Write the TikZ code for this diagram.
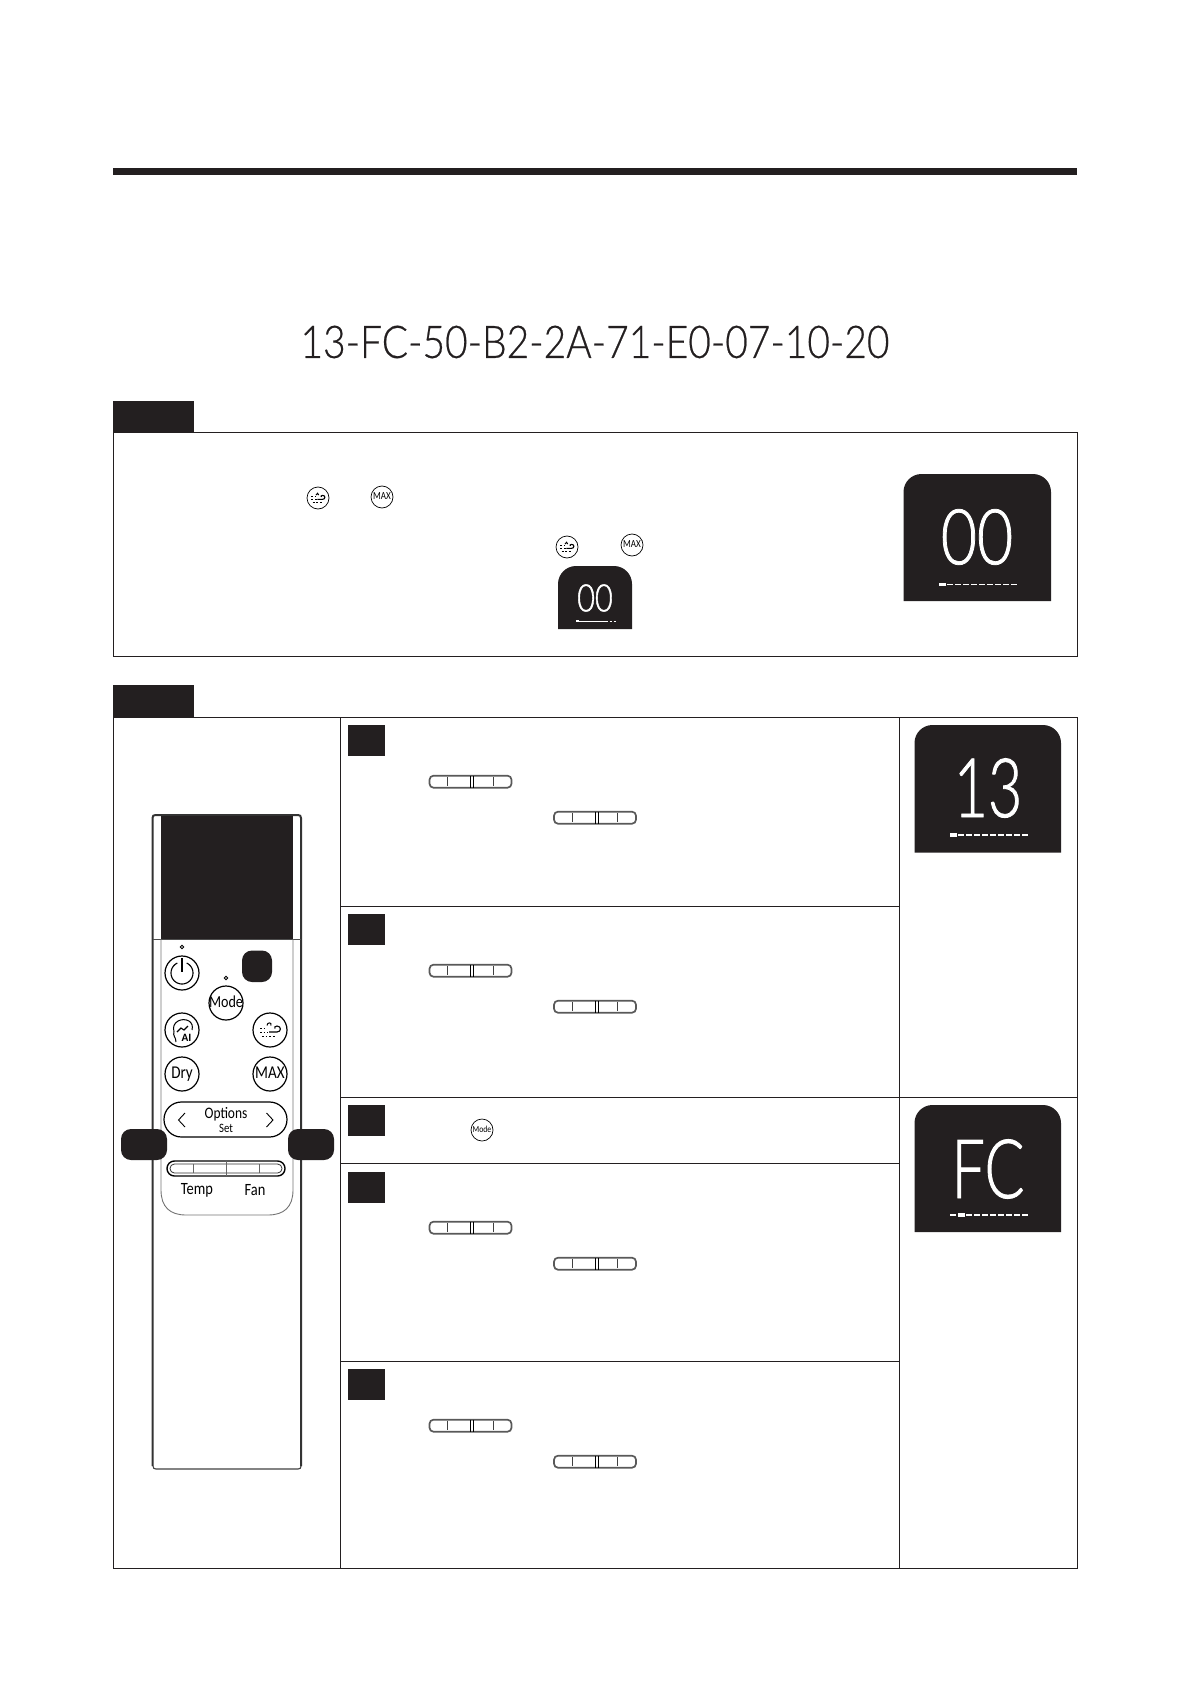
\documentclass[tikz,border=0pt]{standalone}
\usepackage{fontspec}
\setmainfont{Carlito}
\newfontfamily\lightfont[FakeStretch=0.865,FakeBold=0.5]{Lato Light}
\newfontfamily\zerofont[FakeStretch=0.81,FakeBold=1]{Lato Light}
\newfontfamily\codefont[FakeStretch=0.72,FakeBold=1]{Lato Light}
\newfontfamily\labelfont[FakeStretch=0.84]{Carlito}
\usepackage{xcolor}
\definecolor{panel}{HTML}{231F20}
\newcommand{\DispBox}[4]{\fill[panel] (#1,#4) [rounded corners=9pt] -- (#1,#2) -- (#3,#2) [sharp corners] -- (#3,#4) -- cycle;}
\newcommand{\DispBar}[3]{%
  \foreach \k in {0,...,9}{\draw[white,line width=0.55pt] ({#1+\k*8},#2) -- ({#1+\k*8+6.2},#2);}
  \fill[white] ({#1+#3*8},#2-1.7) rectangle ({#1+#3*8+6.8},#2+1.7);}
\newcommand{\BtnText}[1]{\raisebox{-0.5em}{\smash{\makebox[0pt]{#1}}}}
\tikzset{
  frameline/.style={line width=0.5pt,panel},
  softline/.style={line width=0.45pt,black!55},
  tabbox/.style={fill=panel},
  stepbox/.style={fill=panel},
  bigbtn/.style={circle,draw=black,line width=0.6pt,fill=white,inner sep=0pt,minimum size=17pt,font=\fontsize{8.4}{9}\selectfont\labelfont},
  smallbtn/.style={circle,draw=black,line width=0.35pt,fill=white,inner sep=0pt,minimum size=11pt,font=\fontsize{5.4}{6}\selectfont\labelfont},
  windicon/.pic={
    \draw[line width=0.4pt,black,dash pattern=on 0.9pt off 0.9pt] (-10,-2) -- (-4,-2) (-10,2) -- (-2,2) (-8,6.5) -- (6,6.5);
    \draw[line width=0.55pt,black] (-1,2) -- (7,2) .. controls (11.5,2) and (11.5,-4) .. (7,-4) .. controls (5,-4) and (4,-2.5) .. (5,-1.5);
    \draw[line width=0.5pt,black] (-3,-4.5) .. controls (-3,-8) and (2,-8) .. (1,-4.5);
  },
  sliderbar/.pic={
    \draw[line width=0.85pt,black!65,fill=white,rounded corners=2pt] (-41,-6) rectangle (41,6);
    \draw[line width=0.4pt,black!75] (-22.7,-4.5) -- (-22.7,4.5) (22.7,-4.5) -- (22.7,4.5);
    \draw[line width=0.5pt,black] (0,-6) -- (0,6) (3,-6) -- (3,6);
  }
}
\begin{document}
\begin{tikzpicture}[x=0.5pt,y=-0.5pt]
  \useasboundingbox (0,0) rectangle (1191,1684);
  % titre
  \fill[panel] (113,168.5) rectangle (1077,175);
  \node[font=\fontsize{22.5}{26}\selectfont\lightfont,text=panel] (code) at (595,342) {13-FC-50-B2-2A-71-E0-07-10-20};
  % premier cadre
  \fill[tabbox] (113,401) rectangle (194,432.5);
  \draw[frameline] (113.5,432.5) rectangle (1077.5,656);
  \node[smallbtn] (maxa) at (382,497) {\BtnText{MAX}};
  \node[smallbtn] (winda) at (318,498) {};
  \pic[scale=0.66] at (winda) {windicon};
  \node[smallbtn] (maxb) at (632,545) {\BtnText{MAX}};
  \node[smallbtn] (windb) at (567,547) {};
  \pic[scale=0.66] at (windb) {windicon};
  \DispBox{558}{566}{632}{629}
  \node[font=\fontsize{19}{21}\selectfont\zerofont,text=white] (smallzero) at (595,598) {00};
  \draw[white,line width=0.5pt] (578,621) -- (608,621);
  \draw[white,line width=0.5pt] (609.5,621) -- (612,621) (613.5,621) -- (616,621);
  \fill[white] (576,620) rectangle (579,622.2);
  \DispBox{903.5}{474}{1051}{601}
  \node[font=\fontsize{38.5}{42}\selectfont\zerofont,text=white] (bigzero) at (977,537) {00};
  \DispBar{939}{584.5}{0}
  % second cadre
  \fill[tabbox] (113,685) rectangle (194,717);
  \draw[frameline] (113.5,717) rectangle (1077.5,1568);
  \draw[frameline] (340.5,717) -- (340.5,1568);
  \draw[frameline] (899,717) -- (899,1568);
  \draw[frameline] (340.5,906.5) -- (899,906.5);
  \draw[frameline] (340.5,1097) -- (1077.5,1097);
  \draw[frameline] (340.5,1163.5) -- (899,1163.5);
  \draw[frameline] (340.5,1361) -- (899,1361);
  % etapes
  \foreach \y in {725,914,1105,1171.5,1369}{
    \fill[stepbox] (348,\y) rectangle (385,\y+31);
  }
  \foreach \y in {717,906,1163,1361}{
    \pic at (470.5,\y+64.7) {sliderbar};
    \pic at (595,\y+100.7) {sliderbar};
  }
  \node[smallbtn,font=\fontsize{4.6}{5}\selectfont\labelfont] (modea) at (482,1130) {\BtnText{Mode}};
  % afficheurs
  \DispBox{914.5}{725}{1061}{852.5}
  \node[font=\fontsize{41}{45}\selectfont\codefont,text=white] (codea) at (988,788) {13};
  \DispBar{950}{835}{0}
  \DispBox{914.5}{1105}{1061}{1232}
  \node[font=\fontsize{41}{45}\selectfont\codefont,text=white] (codeb) at (988,1169) {FC};
  \DispBar{950}{1215}{1}
  % telecommande
  \draw[line width=0.55pt,black!75] (153,1466) .. controls (153,1468) and (154,1469) .. (156,1469) -- (298,1469) .. controls (300,1469) and (301,1468) .. (301,1466);
  \draw[line width=1pt,black!80] (152.5,1466) -- (152.5,818) .. controls (152.5,816) and (153.5,815) .. (155.5,815) -- (298,815) .. controls (300,815) and (301,816) .. (301,818) -- (301,1466);
  \fill[panel] (161,816) rectangle (293,939);
  \draw[line width=0.45pt,black!70] (152.5,939) -- (301,939);
  \draw[softline] (161,939) -- (161,1190) .. controls (161,1207) and (170,1215) .. (186,1215) -- (268,1215) .. controls (284,1215) and (293,1207) .. (293,1190) -- (293,939);
  \node[bigbtn] (power) at (182,973) {};
  \draw[line width=0.55pt,black] plot[domain=115:425,samples=40] ({182+11*cos(\x)},{973-11*sin(\x)});
  \draw[line width=0.55pt,black] (182,958) -- (182,972);
  \draw[line width=0.4pt,black] (182,947) circle (1.8);
  \node[bigbtn] (mode) at (226,1003) {\BtnText{Mode}};
  \draw[line width=0.4pt,black] (226,978) circle (1.8);
  \fill[panel,rounded corners=5pt] (242,950.5) rectangle (272,982);
  \node[bigbtn] (aibtn) at (182,1030) {};
  \draw[line width=0.5pt,black] (176,1042) .. controls (176,1037) and (172.5,1036) .. (174,1031.5) .. controls (171,1022) and (182,1017) .. (189,1021) .. controls (192,1023) and (193,1026) .. (192,1030);
  \draw[line width=0.55pt,black] (177,1032) -- (181,1028) -- (184,1030) -- (188,1026);
  \node[font=\fontsize{5.6}{6}\selectfont\bfseries] (ailabel) at (186.5,1037.5) {AI};
  \node[bigbtn] (wind) at (270,1030) {};
  \pic at (wind) {windicon};
  \node[bigbtn,font=\fontsize{9}{10}\selectfont\labelfont] (dry) at (182,1074) {\BtnText{Dry}};
  \node[bigbtn,font=\fontsize{9}{10}\selectfont\labelfont] (maxbtn) at (270,1074) {\BtnText{MAX}};
  \draw[line width=0.6pt,black,fill=white,rounded corners=8.7pt] (164,1102) rectangle (287,1137);
  \draw[line width=0.45pt,black] (185,1113) -- (178.5,1120) -- (185,1127);
  \draw[line width=0.45pt,black] (266.5,1113) -- (273,1120) -- (266.5,1127);
  \node[font=\fontsize{8}{9}\selectfont\labelfont] (options) at (226,1114) {Options};
  \node[font=\fontsize{6.4}{7}\selectfont\labelfont] (set) at (226,1128) {Set};
  \draw[line width=0.7pt,black,rounded corners=3.7pt] (167,1161) rectangle (285,1176);
  \draw[line width=0.4pt,black!80,rounded corners=2.2pt] (170,1164) rectangle (282,1173);
  \draw[line width=0.35pt,black!60] (193,1164) -- (193,1173) (259,1164) -- (259,1173) (226,1161) -- (226,1176);
  \node[font=\fontsize{8.6}{9}\selectfont\labelfont] (temp) at (197,1190.5) {Temp};
  \node[font=\fontsize{8.6}{9}\selectfont\labelfont] (fan) at (255,1190) {Fan};
  \fill[panel,rounded corners=5pt] (121,1129) rectangle (167,1160);
  \fill[panel,rounded corners=5pt] (288,1129) rectangle (334,1160);
\end{tikzpicture}
\end{document}
